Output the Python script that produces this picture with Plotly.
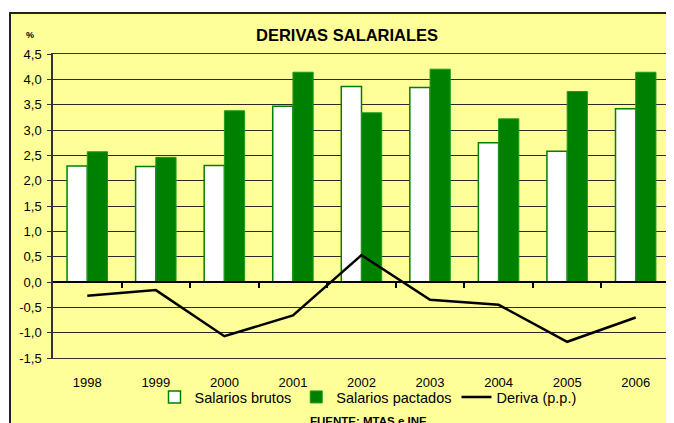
import plotly.graph_objects as go

years = ["1998", "1999", "2000", "2001", "2002", "2003", "2004", "2005", "2006"]
brutos = [2.29, 2.28, 2.30, 3.47, 3.86, 3.84, 2.75, 2.58, 3.42]
pactados = [2.57, 2.46, 3.38, 4.14, 3.34, 4.20, 3.22, 3.76, 4.14]
deriva = [-0.27, -0.16, -1.07, -0.66, 0.53, -0.35, -0.45, -1.18, -0.70]
ytick_vals = [-1.5, -1.0, -0.5, 0.0, 0.5, 1.0, 1.5, 2.0, 2.5, 3.0, 3.5, 4.0, 4.5]
ytick_text = ["-1,5", "-1,0", "-0,5", "0,0", "0,5", "1,0", "1,5", "2,0", "2,5", "3,0", "3,5", "4,0", "4,5"]

idx = list(range(len(years)))
FONT = "Liberation Sans, Arial, sans-serif"
GREEN = "#008000"
YELLOW = "#FFFF99"

OFF = 8  # page body margin
W, H = 674 - OFF, 423 - OFF
# plot area in screen pixels: x 53..670, y 54..358
L, T = 53 - OFF, 54 - OFF
R = W - (670 - OFF)
B = H - (358 - OFF)
pw, ph = W - L - R, H - T - B


def px(x):
    return (x - OFF - L) / pw


def py(y):
    return (H - B - (y - OFF)) / ph


fig = go.Figure()
fig.add_trace(go.Bar(x=idx, y=brutos, name="Salarios brutos",
                     marker=dict(color="white", line=dict(color=GREEN, width=1.5))))
fig.add_trace(go.Bar(x=idx, y=pactados, name="Salarios pactados",
                     marker=dict(color=GREEN, line=dict(color="#1f9a1f", width=1))))
fig.add_trace(go.Scatter(x=idx, y=deriva, name="Deriva (p.p.)", mode="lines",
                         line=dict(color="black", width=2.5), xaxis="x2"))

fig.update_layout(
    width=W, height=H,
    margin=dict(l=L, r=R, t=T, b=B, autoexpand=False),
    paper_bgcolor="white",
    plot_bgcolor=YELLOW,
    barmode="group", bargap=0.41, bargroupgap=0,
    font=dict(family=FONT, size=13, color="black"),
    showlegend=True,
    legend=dict(orientation="h", x=px(368), xanchor="center", y=py(397), yanchor="middle",
                font=dict(size=14.5, family=FONT), bgcolor="rgba(0,0,0,0)",
                tracegroupgap=0, itemwidth=30),
    xaxis=dict(range=[-0.5, 8.5], tickvals=idx, ticktext=years, showgrid=False,
               zeroline=False, showline=True, mirror=True, linecolor="#333", linewidth=1,
               ticks="", ticklabelstandoff=12, tickfont=dict(size=13)),
    xaxis2=dict(range=[-0.5, 8.5], overlaying="x", anchor="free", position=0.25,
                side="bottom", tickvals=[i + 0.5 for i in idx[:-1]], ticks="outside",
                ticklen=5, tickwidth=1.5, tickcolor="black", showticklabels=False,
                showgrid=False, zeroline=False, showline=True, linecolor="black",
                linewidth=2),
    yaxis=dict(range=[-1.5, 4.5], tickvals=ytick_vals, ticktext=ytick_text,
               showgrid=True, gridcolor="#2a2a2a", gridwidth=1, zeroline=False,
               showline=True, mirror=True, linecolor="#333", linewidth=1.5,
               ticks="outside", ticklen=4, tickcolor="#333", tickfont=dict(size=13),
               ticklabelstandoff=3),
)

fig.add_shape(type="rect", xref="paper", yref="paper", layer="below",
              x0=px(10), x1=px(700), y0=py(450), y1=py(13),
              fillcolor=YELLOW, line=dict(color="#222", width=2))

fig.add_annotation(text="<b>DERIVAS SALARIALES</b>", xref="paper", yref="paper",
                   x=px(347), y=py(35), xanchor="center", yanchor="middle",
                   showarrow=False, font=dict(size=16.5, family=FONT))
fig.add_annotation(text="<b>%</b>", xref="paper", yref="paper",
                   x=px(30), y=py(35), xanchor="center", yanchor="middle",
                   showarrow=False, font=dict(size=9, family=FONT))
fig.add_annotation(text="<b>FUENTE: MTAS e INE.</b>", xref="paper", yref="paper",
                   x=px(370), y=py(421), xanchor="center", yanchor="middle",
                   showarrow=False, font=dict(size=11.5, family=FONT))

fig.write_html("out.html")
